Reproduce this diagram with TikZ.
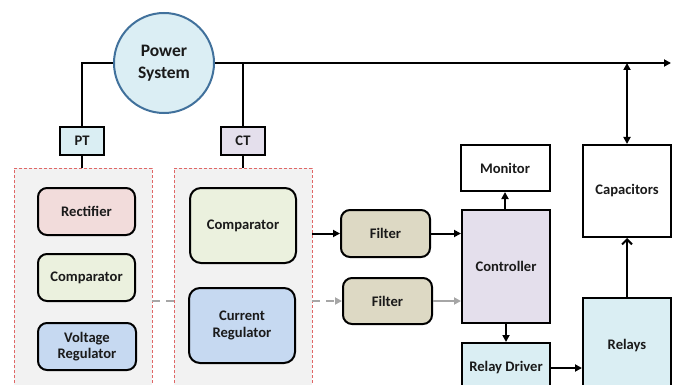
\documentclass[tikz,border=0pt]{standalone}
\usepackage{fontspec}
\setmainfont{Carlito}
\usetikzlibrary{arrows.meta}
\definecolor{psfill}{HTML}{DBEEF4}
\definecolor{psdraw}{HTML}{41719C}
\definecolor{ltblue}{HTML}{DAEEF3}
\definecolor{lav}{HTML}{E4DFEC}
\definecolor{pink}{HTML}{F2DCDB}
\definecolor{ltgreen}{HTML}{EBF1DE}
\definecolor{regblue}{HTML}{C6D9F1}
\definecolor{tan}{HTML}{DDD9C4}
\definecolor{contfill}{HTML}{F2F2F2}
\definecolor{contdraw}{HTML}{E06666}
\definecolor{dgray}{HTML}{A6A6A6}
\definecolor{txt}{HTML}{1A1A1A}
\begin{document}
\begin{tikzpicture}[x=1pt,y=-1pt,
  font=\fontsize{14.6}{16.5}\selectfont\bfseries, text=txt,
  line width=2pt,
  tip/.tip={Triangle[length=7pt,width=7pt]},
  blk/.style={draw=black, line width=2pt, rectangle, align=center, inner sep=0pt},
  rbox/.style={blk, rounded corners=9pt},
  cont/.style={draw=contdraw, fill=contfill, line width=0.8pt, dash pattern=on 3pt off 2pt, rectangle, inner sep=0pt},
  conn/.style={draw=black, line width=2pt},
  gconn/.style={draw=dgray, line width=2pt},
]
\useasboundingbox (0,0) rectangle (677,385);
\begin{scope}
\clip (0,0) rectangle (677,385);
% containers
\node[cont, minimum width=138pt, minimum height=227pt] (LC) at (83,281.5) {};
\node[cont, minimum width=138pt, minimum height=227pt] (RC) at (243,281.5) {};
% power system
\node[circle, draw=psdraw, fill=psfill, line width=2pt, minimum size=100pt, inner sep=0pt, align=center,
      font=\fontsize{17.5}{22}\selectfont\bfseries] (PS) at (164,63) {Power\\System};
\node[blk, fill=ltblue, minimum width=44pt, minimum height=28pt] (PT) at (82,141) {PT};
\node[blk, fill=lav, minimum width=44pt, minimum height=28pt] (CT) at (243,141) {CT};
% left container
\node[rbox, fill=pink, minimum width=97pt, minimum height=47pt] (REC) at (86.5,211.5) {Rectifier};
\node[rbox, fill=ltgreen, minimum width=97pt, minimum height=47pt] (CMPL) at (86.5,277.5) {Comparator};
\node[rbox, fill=regblue, minimum width=98pt, minimum height=47pt] (VR) at (87,346.5) {Voltage\\Regulator};
% right container
\node[rbox, rounded corners=11pt, fill=ltgreen, minimum width=106pt, minimum height=75pt] (CMPR) at (243,225.5) {Comparator};
\node[rbox, rounded corners=11pt, fill=regblue, minimum width=106pt, minimum height=75pt] (CR) at (242,325.5) {Current\\Regulator};
% filters
\node[rbox, fill=tan, minimum width=89pt, minimum height=47pt] (F1) at (385.5,233.5) {Filter};
\node[rbox, fill=tan, minimum width=89pt, minimum height=46pt] (F2) at (387.5,301) {Filter};
% controller etc
\node[blk, fill=lav, minimum width=88pt, minimum height=113pt] (CTRL) at (506,266.5) {Controller};
\node[blk, fill=white, minimum width=89pt, minimum height=46pt] (MON) at (505,168) {Monitor};
\node[blk, fill=ltblue, minimum width=88pt, minimum height=50pt] (RD) at (506,368) {Relay Driver};
\node[blk, fill=ltblue, minimum width=88pt, minimum height=95pt] (REL) at (627,345.5) {Relays};
\node[blk, fill=white, minimum width=88pt, minimum height=92pt] (CAP) at (627,191) {Capacitors};
\coordinate (OUT) at (671,63);
% connectors
\draw[conn] (PS.west) -| (PT.north);
\draw[conn, -{tip}] (PS.east) -- (PS.east -| OUT);
\draw[conn] (CT.north |- PS.east) -- (CT.north);
\draw[conn] (PT.south) -- (PT.south |- LC.north);
\draw[conn] (CT.south) -- (CT.south |- RC.north);
\draw[gconn, dash pattern=on 8pt off 6pt] (LC.east |- F2.west) -- (RC.west |- F2.west);
\draw[gconn, dash pattern=on 8pt off 6pt, -{tip}] (RC.east |- F2.west) -- (F2.west);
\draw[conn, -{tip}] (RC.east |- F1.west) -- (F1.west);
\draw[conn, -{tip}] (F1.east) -- (CTRL.west |- F1.east);
\draw[gconn, -{tip}] (F2.east) -- (CTRL.west |- F2.east);
\draw[conn, -{tip}] (CTRL.north -| MON.south) -- (MON.south);
\draw[conn, -{tip}] (CTRL.south) -- (RD.north);
\draw[conn, -{tip}] (RD.east) -- (REL.west |- RD.east);
\draw[conn, -{Straight Barb[length=5pt,width=10pt]}] (REL.north) -- (CAP.south);
\draw[conn, {tip}-{tip}] (CAP.north |- PS.east) -- (CAP.north);
\end{scope}
\end{tikzpicture}
\end{document}
